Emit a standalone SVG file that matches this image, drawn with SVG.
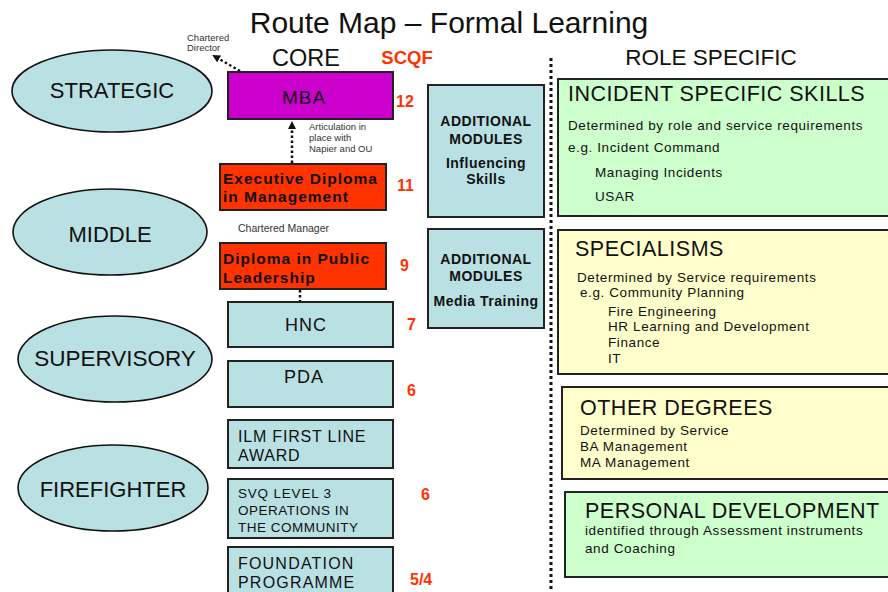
<svg xmlns="http://www.w3.org/2000/svg" width="888" height="592" viewBox="0 0 888 592">
<defs>
<style>
text{font-family:"Liberation Sans",Arial,sans-serif;fill:#111}
.ell{fill:#B9E0E3;stroke:#111;stroke-width:1.6}
.box{fill:#B9E0E3;stroke:#222;stroke-width:2}
.red{fill:#FF3300;stroke:#222;stroke-width:2}
.green{fill:#CCFFCC;stroke:#222;stroke-width:2}
.yellow{fill:#FFFFCC;stroke:#222;stroke-width:2}
.lvl{font-size:22px;text-anchor:middle}
.num{font-size:16px;font-weight:bold;fill:#FF3300}
.bt{font-size:15.5px;font-weight:bold;letter-spacing:1px}
.ct{font-size:16px;letter-spacing:0.8px}
.ctc{font-size:18px;letter-spacing:1px;text-anchor:middle}
.am{font-size:14px;font-weight:bold;text-anchor:middle;letter-spacing:0.5px}
.rt{font-size:21.5px;letter-spacing:0.5px}
.rs{font-size:13.5px;letter-spacing:0.6px}
.sm{font-size:9.5px;fill:#333}
.dot{stroke:#111;stroke-width:3;stroke-dasharray:3 3;fill:none}
.dotth{stroke:#111;stroke-width:2.5;stroke-dasharray:2.5 2.5;fill:none}
</style>
<marker id="ah" markerWidth="8" markerHeight="8" refX="6" refY="4" orient="auto" markerUnits="userSpaceOnUse">
<path d="M0,0 L8,4 L0,8 Z" fill="#111"/>
</marker>
</defs>
<rect width="888" height="592" fill="#fff"/>

<text x="449" y="33" font-size="30" text-anchor="middle">Route Map – Formal Learning</text>
<text x="306" y="66" font-size="23.5" text-anchor="middle">CORE</text>
<text x="407" y="64" font-size="18.5" font-weight="bold" style="fill:#FF3300" text-anchor="middle">SCQF</text>
<text x="711" y="65" font-size="22.5" text-anchor="middle">ROLE SPECIFIC</text>

<g id="connectors">
<line class="dot" x1="551" y1="58" x2="551" y2="592"/>
<line class="dotth" x1="240" y1="71" x2="214" y2="56" marker-end="url(#ah)"/>
<line class="dotth" x1="292" y1="163" x2="292" y2="123" marker-end="url(#ah)"/>
<line class="dotth" x1="300" y1="290" x2="300" y2="302"/>
</g>

<g id="strategic"><ellipse class="ell" cx="112" cy="91" rx="100" ry="41"/><text class="lvl" x="112" y="98">STRATEGIC</text></g>
<g id="middle"><ellipse class="ell" cx="110" cy="232" rx="97" ry="43"/><text class="lvl" x="110" y="242">MIDDLE</text></g>
<g id="supervisory"><ellipse class="ell" cx="115" cy="359" rx="97" ry="43"/><text class="lvl" x="115" y="366" style="font-size:22.5px">SUPERVISORY</text></g>
<g id="firefighter"><ellipse class="ell" cx="113" cy="488" rx="95" ry="43"/><text class="lvl" x="113" y="497">FIREFIGHTER</text></g>

<g id="chartered-director"><text class="sm" x="187" y="41">Chartered</text><text class="sm" x="187" y="51">Director</text></g>

<g id="mba"><rect x="228" y="72" width="165" height="47" fill="#CC00CC" stroke="#222" stroke-width="2"/><text x="304" y="104" font-size="19" text-anchor="middle" letter-spacing="1">MBA</text><text class="num" x="396" y="107">12</text></g>

<g id="articulation"><text class="sm" x="309" y="130">Articulation  in</text><text class="sm" x="309" y="141">place with</text><text class="sm" x="309" y="152">Napier and OU</text></g>

<g id="exec-diploma"><rect class="red" x="220" y="164" width="166" height="46"/><text class="bt" x="223" y="184">Executive Diploma</text><text class="bt" x="223" y="202">in Management</text><text class="num" x="397" y="191">11</text></g>

<g id="chartered-manager"><text class="sm" x="238" y="232" style="font-size:10.5px">Chartered Manager</text></g>

<g id="dpl"><rect class="red" x="220" y="243" width="166" height="46"/><text class="bt" x="223" y="264">Diploma in Public</text><text class="bt" x="223" y="283">Leadership</text><text class="num" x="400" y="271">9</text></g>

<g id="hnc"><rect class="box" x="228" y="302" width="165" height="45"/><text class="ctc" x="306" y="331">HNC</text><text class="num" x="407" y="330">7</text></g>

<g id="pda"><rect class="box" x="228" y="361" width="165" height="46"/><text class="ctc" x="304" y="383">PDA</text><text class="num" x="407" y="396">6</text></g>

<g id="ilm"><rect class="box" x="228" y="420" width="165" height="48"/><text class="ct" x="238" y="442">ILM FIRST LINE</text><text class="ct" x="238" y="461">AWARD</text></g>

<g id="svq"><rect class="box" x="228" y="479" width="165" height="59"/><text x="238" y="498" font-size="13.5" letter-spacing="0.8">SVQ LEVEL 3</text><text x="238" y="515" font-size="13.5" letter-spacing="0.5">OPERATIONS IN</text><text x="238" y="532" font-size="13.5" letter-spacing="0.5">THE COMMUNITY</text><text class="num" x="421" y="500">6</text></g>

<g id="foundation"><rect class="box" x="228" y="547" width="165" height="50"/><text class="ct" x="238" y="569" style="letter-spacing:1.2px">FOUNDATION</text><text class="ct" x="238" y="588" style="letter-spacing:1.2px">PROGRAMME</text><text class="num" x="410" y="585">5/4</text></g>

<g id="am-influencing"><rect class="box" x="428" y="85" width="116" height="132"/><text class="am" x="486" y="126">ADDITIONAL</text><text class="am" x="486" y="144">MODULES</text><text class="am" x="486" y="168">Influencing</text><text class="am" x="486" y="184">Skills</text></g>

<g id="am-media"><rect class="box" x="428" y="229" width="116" height="99"/><text class="am" x="486" y="264">ADDITIONAL</text><text class="am" x="486" y="281">MODULES</text><text class="am" x="486" y="306">Media Training</text></g>

<g id="incident"><rect class="green" x="558" y="79" width="340" height="137"/><text class="rt" x="568" y="101">INCIDENT SPECIFIC SKILLS</text><text class="rs" x="568" y="130">Determined by role and service requirements</text><text class="rs" x="568" y="152">e.g. Incident Command</text><text class="rs" x="595" y="177">Managing Incidents</text><text class="rs" x="595" y="201">USAR</text></g>

<g id="specialisms"><rect class="yellow" x="558" y="230" width="340" height="144"/><text class="rt" x="575" y="256">SPECIALISMS</text><text class="rs" x="577" y="282">Determined by Service requirements</text><text class="rs" x="580" y="297">e.g. Community Planning</text><text class="rs" x="608" y="316">Fire Engineering</text><text class="rs" x="608" y="331">HR Learning and Development</text><text class="rs" x="608" y="347">Finance</text><text class="rs" x="608" y="363">IT</text></g>

<g id="other-degrees"><rect class="yellow" x="562" y="387" width="336" height="92"/><text class="rt" x="580" y="415">OTHER DEGREES</text><text class="rs" x="580" y="435">Determined by Service</text><text class="rs" x="580" y="451">BA Management</text><text class="rs" x="580" y="467">MA Management</text></g>

<g id="personal-development"><rect class="green" x="565" y="492" width="333" height="85"/><text class="rt" x="585" y="518">PERSONAL DEVELOPMENT</text><text class="rs" x="585" y="535">identified through Assessment instruments</text><text class="rs" x="585" y="553">and Coaching</text></g>
</svg>
